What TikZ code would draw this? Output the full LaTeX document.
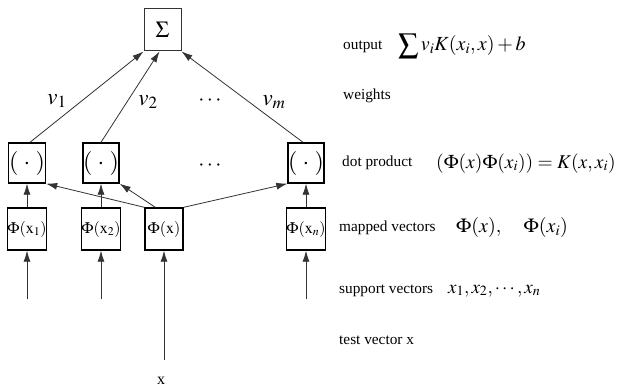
\documentclass[tikz,border=0pt]{standalone}
\usepackage{mathptmx}
\usepackage[no-math]{fontspec}
\setmainfont{Liberation Serif}
\usetikzlibrary{arrows.meta}
\tikzset{
  box/.style={draw=black, line width=1.4pt, inner sep=0pt, minimum width=37pt, minimum height=41pt, font=\fontsize{16}{18}\selectfont},
  dotbox/.style={box, font=\fontsize{24}{26}\selectfont},
  sigbox/.style={draw=black!80, line width=1pt, inner sep=0pt, minimum width=37pt, minimum height=42pt, font=\fontsize{23}{26}\selectfont},
  conn/.style={draw=black!80, line width=0.8pt, -{Latex[length=11pt,width=7pt]}},
  lbl/.style={anchor=base west, inner sep=0pt, font=\fontsize{15.3}{18}\selectfont},
  fml/.style={anchor=base west, inner sep=0pt, font=\fontsize{20}{24}\selectfont},
  wlbl/.style={inner sep=0pt, font=\fontsize{23}{26}\selectfont},
}
\begin{document}
\begin{tikzpicture}[x=1pt,y=-1pt]
\useasboundingbox[fill=white] (0,0) rectangle (628,390);
% boxes
\node[sigbox] (sig) at (162.5,30) {$\Sigma$};
\node[dotbox, minimum height=40pt] (d1) at (27,163) {$(\;\cdot\;)$};
\node[dotbox, minimum height=40pt, minimum width=36pt] (d2) at (101,163) {$(\;\cdot\;)$};
\node[dotbox, minimum height=40pt, minimum width=36pt] (d3) at (306,163) {$(\;\cdot\;)$};
\node[box, minimum height=42pt] (p1) at (27,229) {$\Phi(\mathrm{x}_1)$};
\node[box, minimum height=42pt, minimum width=36pt] (p2) at (101,229) {$\Phi(\mathrm{x}_2)$};
\node[box, minimum height=42pt, minimum width=38pt] (px) at (164,229) {$\Phi(\mathrm{x})$};
\node[box, minimum height=42pt, minimum width=36pt] (pn) at (306,229) {$\Phi(\mathrm{x}_n)$};
% dots
\node[wlbl, font=\fontsize{22}{24}\selectfont] (dw) at (210,101) {$\cdots$};
\node[wlbl, font=\fontsize{22}{24}\selectfont] (dd) at (210,166) {$\cdots$};
% weight labels
\node[wlbl] (v1) at (57,101) {$v_1$};
\node[wlbl] (v2) at (148,102) {$v_2$};
\node[wlbl] (vm) at (274,102) {$v_m$};
% input coordinates
\coordinate (i1) at (27,299);
\coordinate (i2) at (101,299);
\coordinate (in) at (306,299);
\coordinate (ix) at (164,360);
\node[inner sep=0pt, font=\fontsize{16}{18}\selectfont] (xl) at (161,381) {x};
% connectors
\draw[conn] (i1) -- (p1.south);
\draw[conn] (i2) -- (p2.south);
\draw[conn] (in) -- (pn.south);
\draw[conn] (ix) -- (px.south);
\draw[conn] (p1.north) -- (d1.south);
\draw[conn] (p2.north) -- (d2.south);
\draw[conn] (pn.north) -- (d3.south);
\draw[conn] (px.north west) -- (d1.south east);
\draw[conn] ([xshift=11pt]px.north west) -- (d2.south east);
\draw[conn] (px.north east) -- (d3.south west);
\draw[conn] ([xshift=3pt]d1.north) -- (sig.south west);
\draw[conn] (d2.north) -- ([xshift=-3pt]sig.south);
\draw[conn] ([xshift=-3pt]d3.north) -- (sig.south east);
% right-hand texts
\node[lbl] (t1) at (343,50) {output};
\node[fml] (f1) at (398,51) {$\displaystyle\sum v_iK(x_i,x)+b$};
\node[lbl] (t2) at (343,100) {weights};
\node[lbl] (t3) at (342,167) {dot product};
\node[fml, font=\fontsize{19.5}{23}\selectfont] (f3) at (436,168) {$(\Phi(x)\Phi(x_i))=K(x,x_i)$};
\node[lbl] (t4) at (339,231) {mapped vectors};
\node[fml] (f4) at (456,232) {$\Phi(x),\quad\Phi(x_i)$};
\node[lbl] (t5) at (339,293) {support vectors};
\node[fml, font=\fontsize{19}{22}\selectfont] (f5) at (448,293) {$x_1,x_2,\cdots,x_n$};
\node[lbl] (t6) at (339,344) {test vector x};
\end{tikzpicture}
\end{document}
